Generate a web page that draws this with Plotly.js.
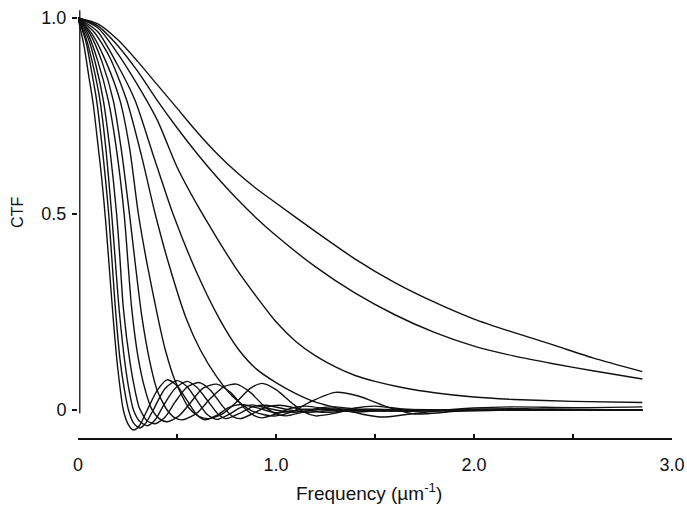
<!DOCTYPE html>
<html>
<head>
<meta charset="utf-8">
<script src="https://cdn.plot.ly/plotly-3.0.1.min.js"></script>
<style>html,body{margin:0;padding:0;background:#fff;}#chart{width:687px;height:505px;}</style>
</head>
<body>
<div id="chart"></div>
<script>
// CTF curves (x = frequency in µm^-1, y = CTF)
const c1x = [0,0.03,0.055,0.077,0.1,0.12,0.14,0.16,0.18,0.2,0.229,0.255,0.28,0.31,0.345,0.4,0.45,0.5,0.55,0.6,0.64,0.7,0.76,0.82,0.9,1.0,1.15,1.4,2.0,2.85];
const c1y = [1,0.93,0.85,0.78,0.68,0.59,0.48,0.35,0.22,0.11,0,-0.038,-0.051,-0.04,-0.005,0.05,0.077,0.062,0.025,-0.012,-0.025,-0.014,0.006,0.014,0.006,-0.007,0.002,-0.002,0.001,0];
const c2x = [0,0.04,0.07,0.094,0.12,0.155,0.187,0.212,0.235,0.255,0.28,0.31,0.34,0.38,0.44,0.5,0.55,0.6,0.65,0.7,0.76,0.82,0.88,0.96,1.08,1.25,1.5,2.0,2.85];
const c2y = [1,0.94,0.86,0.79,0.68,0.5,0.27,0.13,0.05,0,-0.033,-0.046,-0.035,0,0.055,0.075,0.06,0.025,-0.01,-0.024,-0.012,0.006,0.013,0.004,-0.006,0.003,-0.002,0.001,0];
const c3x = [0,0.04,0.08,0.111,0.14,0.17,0.19,0.209,0.237,0.26,0.28,0.31,0.35,0.39,0.43,0.49,0.55,0.6,0.66,0.71,0.75,0.81,0.88,0.95,1.05,1.15,1.35,1.7,2.85];
const c3y = [1,0.95,0.87,0.79,0.67,0.5,0.37,0.25,0.12,0.045,0,-0.028,-0.04,-0.025,0.01,0.055,0.073,0.058,0.02,-0.012,-0.022,-0.01,0.008,0.012,0.002,-0.006,0.002,-0.001,0];
const c4x = [0,0.05,0.09,0.128,0.16,0.195,0.21,0.229,0.263,0.29,0.31,0.35,0.39,0.44,0.49,0.55,0.61,0.67,0.73,0.78,0.82,0.88,0.95,1.02,1.12,1.25,1.45,1.8,2.85];
const c4y = [1,0.95,0.88,0.79,0.67,0.5,0.4,0.26,0.12,0.045,0.005,-0.028,-0.035,-0.018,0.02,0.058,0.07,0.05,0.01,-0.016,-0.022,-0.01,0.007,0.012,0.003,-0.006,0.002,-0.001,0];
const c5x = [0,0.05,0.1,0.153,0.19,0.233,0.271,0.305,0.34,0.37,0.41,0.45,0.51,0.57,0.63,0.7,0.77,0.84,0.89,0.93,1.0,1.08,1.15,1.27,1.4,1.6,2.0,2.85];
const c5y = [1,0.96,0.89,0.79,0.68,0.5,0.26,0.13,0.05,0.005,-0.022,-0.03,-0.015,0.02,0.055,0.066,0.045,0.005,-0.014,-0.02,-0.01,0.005,0.01,0.002,-0.005,0.001,-0.001,0];
const c6x = [0,0.06,0.12,0.178,0.22,0.26,0.29,0.322,0.36,0.4,0.45,0.49,0.53,0.6,0.67,0.74,0.8,0.87,0.94,1.0,1.05,1.13,1.22,1.3,1.45,1.7,2.1,2.85];
const c6y = [1,0.96,0.89,0.79,0.66,0.5,0.37,0.24,0.13,0.05,0,-0.02,-0.025,-0.008,0.03,0.06,0.066,0.045,0.01,-0.01,-0.015,-0.006,0.005,0.008,0,-0.003,0.001,0];
const c7x = [0,0.07,0.14,0.212,0.26,0.305,0.35,0.406,0.44,0.49,0.56,0.61,0.66,0.73,0.8,0.87,0.93,1.0,1.08,1.14,1.2,1.3,1.4,1.5,1.65,1.9,2.3,2.85];
const c7y = [1,0.96,0.89,0.79,0.67,0.5,0.37,0.23,0.155,0.075,0.005,-0.016,-0.022,-0.01,0.02,0.055,0.068,0.052,0.018,-0.005,-0.015,-0.008,0.005,0.01,0.002,-0.003,0.001,0];
const c8x = [0,0.08,0.16,0.246,0.32,0.39,0.46,0.549,0.616,0.7,0.78,0.87,0.94,1.0,1.08,1.17,1.3,1.42,1.55,1.7,1.85,2.0,2.3,2.85];
const c8y = [1,0.965,0.9,0.79,0.65,0.5,0.37,0.23,0.155,0.085,0.035,0,-0.012,-0.015,-0.005,0.02,0.045,0.035,0.01,-0.01,-0.006,0.002,0.003,0];
const c9x = [0,0.1,0.2,0.288,0.38,0.48,0.6,0.717,0.81,0.9,1.0,1.1,1.2,1.35,1.45,1.54,1.65,1.8,2.0,2.2,2.5,2.85];
const c9y = [1,0.965,0.88,0.79,0.65,0.5,0.35,0.23,0.155,0.105,0.07,0.042,0.02,0,-0.012,-0.018,-0.012,-0.003,0.005,0.008,0.006,0.008];
const c10x = [0,0.1,0.2,0.3,0.4,0.5,0.6,0.7,0.8,0.9,1.0,1.1,1.2,1.3,1.4,1.5,1.65,1.8,2.0,2.2,2.5,2.85];
const c10y = [1,0.975,0.91,0.83,0.74,0.62,0.525,0.44,0.36,0.29,0.225,0.175,0.138,0.11,0.088,0.073,0.056,0.044,0.033,0.027,0.022,0.019];
const c11x = [0,0.1,0.2,0.3,0.4,0.5,0.6,0.7,0.8,0.9,1.0,1.2,1.4,1.6,1.8,2.0,2.2,2.4,2.6,2.85];
const c11y = [1,0.98,0.93,0.865,0.79,0.72,0.655,0.595,0.54,0.49,0.445,0.365,0.298,0.243,0.198,0.163,0.138,0.118,0.1,0.079];
const c12x = [0,0.1,0.2,0.3,0.4,0.5,0.6,0.7,0.8,0.9,1.0,1.2,1.4,1.6,1.8,2.0,2.2,2.4,2.6,2.85];
const c12y = [1,0.985,0.945,0.89,0.83,0.77,0.71,0.655,0.607,0.565,0.528,0.455,0.385,0.325,0.275,0.232,0.198,0.166,0.133,0.098];

const xTickVals = [0, 1, 2, 3];
const xTickText = ['0', '1.0', '2.0', '3.0'];
const yTickVals = [0, 0.5, 1];
const yTickText = ['0', '0.5', '1.0'];
const xTitle = 'Frequency (µm<sup>-1</sup>)';
const yTitle = 'CTF';

const series = [[c1x,c1y],[c2x,c2y],[c3x,c3y],[c4x,c4y],[c5x,c5y],[c6x,c6y],[c7x,c7y],[c8x,c8y],[c9x,c9y],[c10x,c10y],[c11x,c11y],[c12x,c12y]];
const traces = series.map(s => ({
  x: s[0], y: s[1], type: 'scatter', mode: 'lines',
  line: {color: '#111', width: 1.4, shape: 'spline', smoothing: 0.7},
  hoverinfo: 'skip', showlegend: false
}));

const fam = '"Liberation Sans", Arial, Helvetica, sans-serif';
const tickFont = {family: fam, size: 18, color: '#111'};
const xTitleFont = {family: fam, size: 19, color: '#111'};
const yTitleFont = {family: fam, size: 16, color: '#111'};

const layout = {
  width: 687, height: 505,
  margin: {l: 78, r: 15, t: 10, b: 67},
  paper_bgcolor: '#fff', plot_bgcolor: '#fff',
  font: tickFont,
  showlegend: false,
  xaxis: {
    range: [0, 3], showgrid: false, zeroline: false,
    showline: true, linecolor: '#111', linewidth: 1.5,
    tickvals: xTickVals, ticktext: xTickText,
    ticks: 'inside', ticklen: 4, tickwidth: 1.3, tickcolor: '#111',
    minor: {dtick: 0.5, tick0: 0, ticks: 'inside', ticklen: 4, tickwidth: 1.3, tickcolor: '#111'},
    ticklabelstandoff: 10,
    tickfont: tickFont
  },
  yaxis: {
    range: [-0.0714, 1.0204], showgrid: false, zeroline: false,
    showline: false,
    tickvals: yTickVals, ticktext: yTickText,
    ticks: 'outside', ticklen: 5, tickwidth: 1.3, tickcolor: '#111',
    ticklabelstandoff: 2,
    tickfont: tickFont
  },
  annotations: [
    {text: xTitle, xref: 'paper', yref: 'paper', x: 0.49, y: -0.127, xanchor: 'center', yanchor: 'middle',
     showarrow: false, font: xTitleFont},
    {text: yTitle, xref: 'paper', yref: 'paper', x: -0.101, y: 0.526, xanchor: 'center', yanchor: 'middle',
     textangle: -90, showarrow: false, font: yTitleFont}
  ],
  shapes: [
    {type: 'line', xref: 'paper', yref: 'y', x0: 0.003, x1: 0.003, y0: -0.008, y1: 1.02,
     line: {color: '#111', width: 1.3}}
  ]
};

Plotly.newPlot('chart', traces, layout, {staticPlot: true, displayModeBar: false});
</script>
</body>
</html>
